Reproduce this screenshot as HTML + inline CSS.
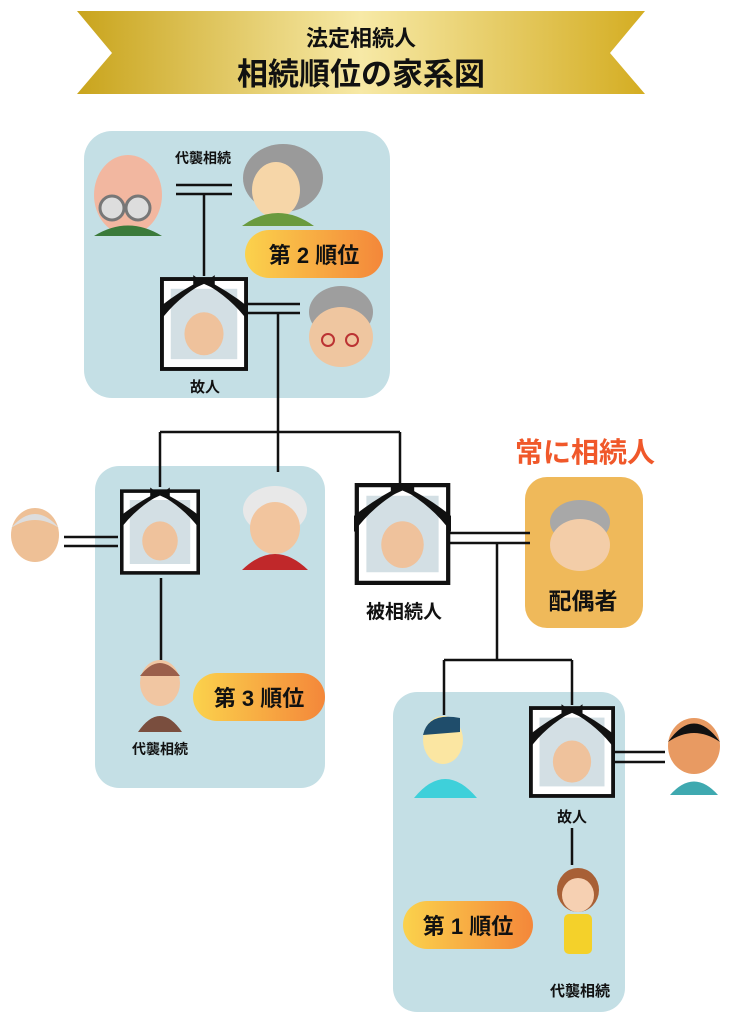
<!DOCTYPE html>
<html><head><meta charset="utf-8"><style>
html,body{margin:0;padding:0;background:#fff;}
svg{display:block}
text{font-family:"Liberation Sans","Noto Sans CJK JP",sans-serif;font-weight:bold;}
</style></head><body>
<svg width="734" height="1024" viewBox="0 0 734 1024" xmlns="http://www.w3.org/2000/svg">
<defs>
<linearGradient id="gold" x1="0" x2="1" y1="0" y2="0">
<stop offset="0" stop-color="#c9a41c"/><stop offset="0.5" stop-color="#f7e9a6"/><stop offset="1" stop-color="#d4ad22"/>
</linearGradient>
<linearGradient id="pill" x1="0" x2="1">
<stop offset="0" stop-color="#fbd24c"/><stop offset="1" stop-color="#f4873a"/>
</linearGradient>
<symbol id="frame" viewBox="0 0 90 96">
<rect x="2" y="2" width="86" height="92" fill="#fff" stroke="#111" stroke-width="4"/>
<rect x="11" y="12" width="68" height="72" fill="#d3dfe4"/>
<ellipse cx="45" cy="58" rx="20" ry="22" fill="#efc29c"/>
<path d="M-2 48 Q16 22 45 6 Q74 22 92 48 L92 32 Q70 14 45 2 Q20 14 -2 32Z" fill="#111"/>
<path d="M34 -2 L45 6 L56 -2 L56 12 L45 7 L34 12Z" fill="#111"/>
</symbol>
</defs>

<polygon points="77,11 645,11 610,53 645,94 77,94 112,53" fill="url(#gold)"/>
<text x="361" y="46" font-size="22" text-anchor="middle" fill="#111">法定相続人</text>
<text x="361" y="85" font-size="31" text-anchor="middle" fill="#111">相続順位の家系図</text>

<rect x="84" y="131" width="306" height="267" rx="28" fill="#c4dfe5"/>
<rect x="95" y="466" width="230" height="322" rx="24" fill="#c4dfe5"/>
<rect x="393" y="692" width="232" height="320" rx="24" fill="#c4dfe5"/>
<rect x="525" y="477" width="118" height="151" rx="22" fill="#efb95a"/>

<g stroke="#111" stroke-width="2.5" fill="none">
<path d="M176 185H232M176 194H232M204 194V276"/>
<path d="M247 304H300M247 313H300M278 313V432M160 432H400M160 432V487M278 432V472M400 432V485"/>
<path d="M64 537H118M64 546H118M161 578V660"/>
<path d="M450 533H530M450 543H530M497 543V660M444 660H572M444 660V715M572 660V705"/>
<path d="M614 752H665M614 762H665M572 828V865"/>
</g>

<ellipse cx="128" cy="195" rx="34" ry="40" fill="#f2b7a0"/>
<path d="M94 236 Q128 215 162 236Z" fill="#3b7a3a"/>
<circle cx="112" cy="208" r="12" fill="#ddd" stroke="#777" stroke-width="3"/>
<circle cx="138" cy="208" r="12" fill="#ddd" stroke="#777" stroke-width="3"/>
<ellipse cx="283" cy="178" rx="40" ry="34" fill="#9a9a9a"/>
<ellipse cx="276" cy="190" rx="24" ry="28" fill="#f6d6a8"/>
<path d="M242 226 Q278 200 314 226Z" fill="#6a9a3e"/>
<rect x="245" y="230" width="138" height="48" rx="24" fill="url(#pill)"/>
<text x="314" y="263" font-size="22" text-anchor="middle" fill="#111">第 2 順位</text>
<use href="#frame" x="160" y="274" width="88" height="100"/>
<text x="205" y="392" font-size="15" text-anchor="middle" fill="#111">故人</text>
<text x="203" y="163" font-size="14" text-anchor="middle" fill="#111">代襲相続</text>
<ellipse cx="341" cy="312" rx="32" ry="26" fill="#9e9e9e"/>
<ellipse cx="341" cy="337" rx="32" ry="30" fill="#efc6a0"/>
<circle cx="328" cy="340" r="6" fill="none" stroke="#b33" stroke-width="2"/>
<circle cx="352" cy="340" r="6" fill="none" stroke="#b33" stroke-width="2"/>

<text x="585" y="462" font-size="28" text-anchor="middle" fill="#f0582a">常に相続人</text>

<use href="#frame" x="120" y="485" width="80" height="94"/>
<ellipse cx="275" cy="510" rx="32" ry="24" fill="#e8e8e8"/>
<ellipse cx="275" cy="528" rx="25" ry="26" fill="#f2c59e"/>
<path d="M242 570 Q275 538 308 570Z" fill="#c0282a"/>
<ellipse cx="35" cy="535" rx="24" ry="27" fill="#eec096"/>
<path d="M11 528 Q35 500 59 528 Q35 512 11 528Z" fill="#ddd"/>
<ellipse cx="160" cy="683" rx="20" ry="23" fill="#f1c6a2"/>
<path d="M140 676 Q160 650 180 676Z" fill="#9b5f4b"/>
<path d="M138 732 Q160 700 182 732Z" fill="#7a4e3e"/>
<rect x="193" y="673" width="132" height="48" rx="24" fill="url(#pill)"/>
<text x="259" y="706" font-size="22" text-anchor="middle" fill="#111">第 3 順位</text>
<text x="160" y="754" font-size="14" text-anchor="middle" fill="#111">代襲相続</text>

<use href="#frame" x="354" y="483" width="97" height="102"/>
<text x="404" y="618" font-size="19" text-anchor="middle" fill="#111">被相続人</text>
<ellipse cx="580" cy="522" rx="30" ry="22" fill="#a8a8a8"/>
<ellipse cx="580" cy="545" rx="30" ry="26" fill="#f3cda8"/>
<text x="583" y="609" font-size="23" text-anchor="middle" fill="#111">配偶者</text>

<ellipse cx="443" cy="740" rx="20" ry="24" fill="#fbe6a2"/>
<path d="M423 735 Q428 712 460 718 L460 732Z" fill="#1f4d6b"/>
<path d="M414 798 Q445 760 477 798Z" fill="#3ed0da"/>
<use href="#frame" x="529" y="702" width="86" height="100"/>
<text x="572" y="822" font-size="15" text-anchor="middle" fill="#111">故人</text>
<ellipse cx="694" cy="746" rx="26" ry="28" fill="#e89a62"/>
<path d="M668 742 Q694 705 720 742 Q694 724 668 742Z" fill="#111"/>
<path d="M670 795 Q694 768 718 795Z" fill="#3fa9b0"/>
<ellipse cx="578" cy="890" rx="21" ry="22" fill="#a86036"/>
<ellipse cx="578" cy="895" rx="16" ry="17" fill="#f6d0b2"/>
<rect x="564" y="914" width="28" height="40" rx="5" fill="#f4d12a"/>
<rect x="403" y="901" width="130" height="48" rx="24" fill="url(#pill)"/>
<text x="468" y="934" font-size="22" text-anchor="middle" fill="#111">第 1 順位</text>
<text x="580" y="996" font-size="15" text-anchor="middle" fill="#111">代襲相続</text>
</svg>
</body></html>
